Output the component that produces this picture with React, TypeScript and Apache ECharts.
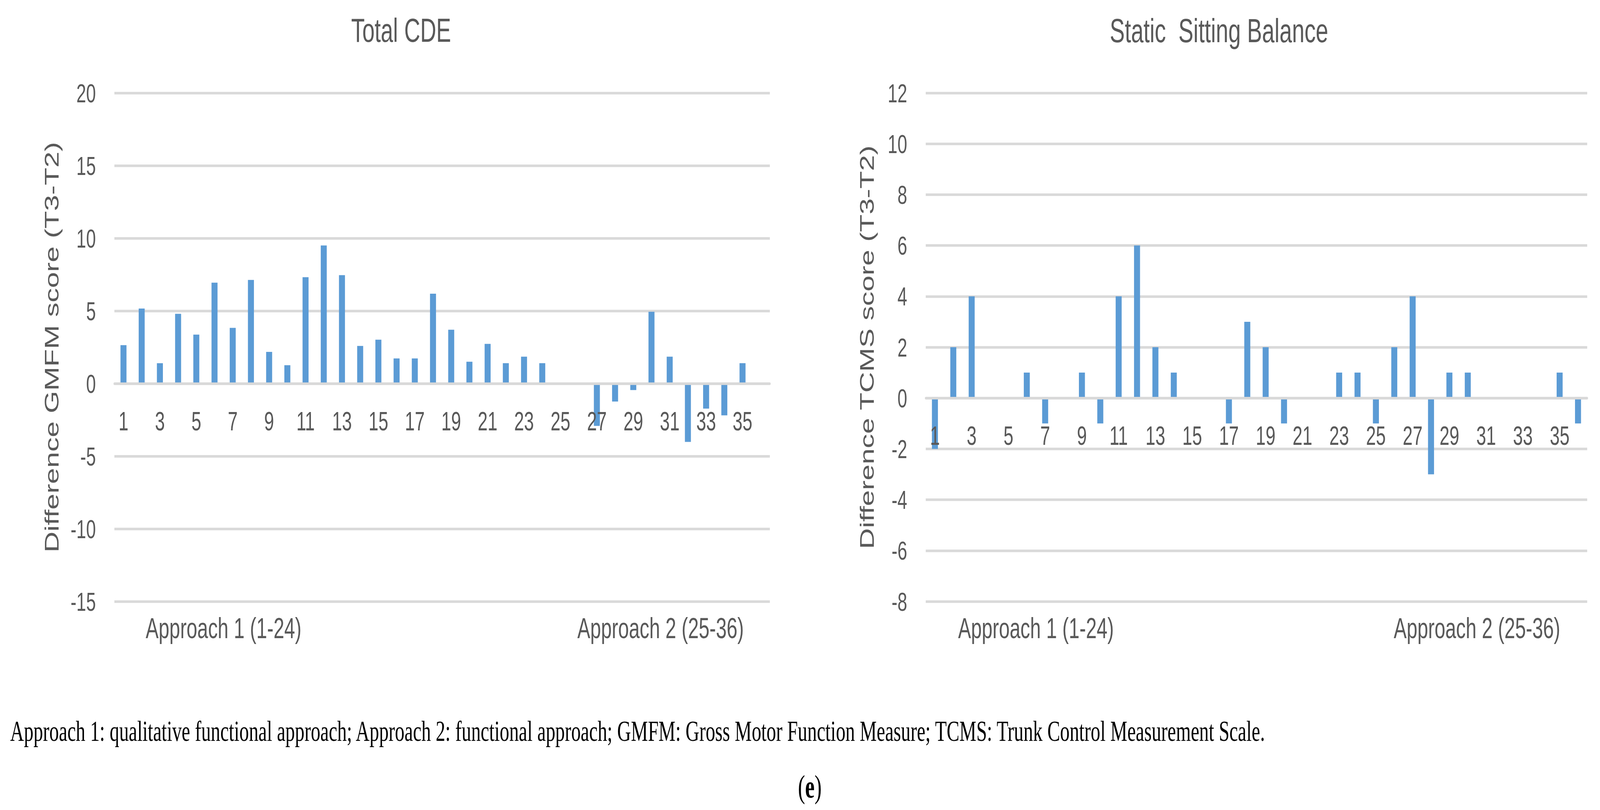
import React, { useEffect, useRef, useState } from "react";
import * as echarts from "echarts";

const categories = [
  "1", "2", "3", "4", "5", "6", "7", "8", "9", "10", "11", "12",
  "13", "14", "15", "16", "17", "18", "19", "20", "21", "22", "23", "24",
  "25", "26", "27", "28", "29", "30", "31", "32", "33", "34", "35", "36",
];
const approachGroups = ["Approach 1 (1-24)", "", "Approach 2 (25-36)"];

const gmfmDiff = [
  2.64, 5.16, 1.4, 4.8, 3.37, 6.94, 3.83, 7.13, 2.18, 1.26, 7.32, 9.5,
  7.46, 2.59, 3.02, 1.73, 1.73, 6.18, 3.7, 1.5, 2.73, 1.4, 1.85, 1.4,
  0, 0, -2.92, -1.24, -0.45, 4.94, 1.85, -4.02, -1.73, -2.19, 1.4, 0,
];
const tcmsDiff = [
  -2, 2, 4, 0, 0, 1, -1, 0, 1, -1, 4, 6,
  2, 1, 0, 0, -1, 3, 2, -1, 0, 0, 1, 1,
  -1, 2, 4, -3, 1, 1, 0, 0, 0, 0, 1, -1,
];

const leftAxisRange = { min: -15, max: 20, interval: 5 };
const rightAxisRange = { min: -8, max: 12, interval: 2 };

const leftTitle = "Total CDE";
const rightTitle = "Static  Sitting Balance";
const leftYName = "Difference GMFM score (T3-T2)";
const rightYName = "Difference TCMS score (T3-T2)";
const footnote =
  "Approach 1: qualitative functional approach; Approach 2: functional approach; GMFM: Gross Motor Function Measure; TCMS: Trunk Control Measurement Scale.";

const SANS = "'Liberation Sans', Arial, sans-serif";
const SERIF = "'Liberation Serif', 'Times New Roman', serif";
const TXT = "#595959";
const GRID = "#d9d9d9";
const BAR = "#5B9BD5";

const W = 6127;
const H = 2074;
const GRID_TOP = 238;
const GRID_H = 1302;

function viewport() {
  const d = document.documentElement;
  return {
    w: d.clientWidth || window.innerWidth || W,
    h: d.clientHeight || window.innerHeight || H,
  };
}

export default function App() {
  const ref = useRef<HTMLDivElement>(null);
  const [vp, setVp] = useState(viewport);

  useEffect(() => {
    document.body.style.margin = "0";
    document.body.style.overflow = "hidden";
    setVp(viewport());
  }, []);

  useEffect(() => {
    if (!ref.current) return;
    const chart = echarts.init(ref.current, undefined, { renderer: "svg" });

    const zeroOffset = (r: { min: number; max: number }) =>
      -GRID_H * ((0 - r.min) / (r.max - r.min));

    const mainX = (gridIndex: number, r: { min: number; max: number }) => ({
      type: "category",
      gridIndex,
      data: categories,
      position: "bottom",
      offset: zeroOffset(r),
      z: 5,
      axisLine: { show: true, onZero: false, lineStyle: { color: GRID, width: 6.5 } },
      axisTick: { show: false },
      splitLine: { show: false },
      axisLabel: {
        interval: 1,
        color: TXT,
        fontFamily: SANS,
        fontSize: 68,
        margin: 62,
      },
    });
    const groupX = (gridIndex: number) => ({
      type: "category",
      gridIndex,
      data: approachGroups,
      position: "bottom",
      axisLine: { show: false, onZero: false },
      axisTick: { show: false },
      splitLine: { show: false },
      axisLabel: {
        interval: 0,
        color: TXT,
        fontFamily: SANS,
        fontSize: 74,
        margin: 31,
      },
    });
    const yAx = (
      gridIndex: number,
      r: { min: number; max: number; interval: number },
      name: string,
      nameGap: number
    ) => ({
      type: "value",
      gridIndex,
      min: r.min,
      max: r.max,
      interval: r.interval,
      name,
      nameLocation: "middle",
      nameGap,
      nameTextStyle: { color: TXT, fontFamily: SANS, fontSize: 74 },
      axisLine: { show: false },
      axisTick: { show: false },
      splitLine: { show: true, lineStyle: { color: GRID, width: 6.5 } },
      axisLabel: { color: TXT, fontFamily: SANS, fontSize: 67, margin: 71 },
    });

    chart.setOption({
      animation: false,
      backgroundColor: "#ffffff",
      title: [
        {
          text: leftTitle,
          left: 1536,
          top: 35,
          textAlign: "center",
          padding: 0,
          textStyle: { color: TXT, fontFamily: SANS, fontSize: 85, fontWeight: "normal" },
        },
        {
          text: rightTitle,
          left: 4668,
          top: 35,
          textAlign: "center",
          padding: 0,
          textStyle: { color: TXT, fontFamily: SANS, fontSize: 86, fontWeight: "normal" },
        },
      ],
      grid: [
        { left: 438, top: GRID_TOP, width: 2510, height: GRID_H },
        { left: 3545, top: GRID_TOP, width: 2533, height: GRID_H },
      ],
      xAxis: [mainX(0, leftAxisRange), groupX(0), mainX(1, rightAxisRange), groupX(1)],
      yAxis: [
        yAx(0, leftAxisRange, leftYName, 203),
        yAx(1, rightAxisRange, rightYName, 188),
      ],
      series: [
        {
          type: "bar",
          xAxisIndex: 0,
          yAxisIndex: 0,
          data: gmfmDiff,
          barWidth: 23,
          itemStyle: { color: BAR },
        },
        {
          type: "bar",
          xAxisIndex: 2,
          yAxisIndex: 1,
          data: tcmsDiff,
          barWidth: 23,
          itemStyle: { color: BAR },
        },
      ],
      graphic: [
        {
          type: "text",
          left: 39,
          top: 1836,
          style: {
            text: footnote,
            fill: "#000000",
            font: `73px ${SERIF}`,
          },
        },
        {
          type: "text",
          x: 3101,
          y: 2014,
          style: {
            text: "({b|e})",
            fill: "#000000",
            font: `82px ${SERIF}`,
            align: "center",
            verticalAlign: "middle",
            rich: {
              b: { fontWeight: "bold", fontSize: 82, fontFamily: SERIF, fill: "#000000" },
            },
          },
        },
      ],
    });

    return () => chart.dispose();
  }, []);

  const sx = vp.w / W;
  const sy = vp.h / H;

  return (
    <div style={{ width: vp.w, height: vp.h, overflow: "hidden", position: "relative", background: "#fff" }}>
      <div
        ref={ref}
        style={{
          width: W,
          height: H,
          transform: `scale(${sx}, ${sy})`,
          transformOrigin: "0 0",
          position: "absolute",
          left: 0,
          top: 0,
        }}
      />
    </div>
  );
}
